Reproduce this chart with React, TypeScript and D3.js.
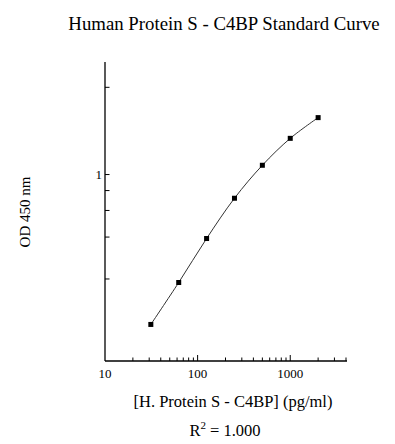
import React, { useEffect, useRef } from 'react';
import * as d3 from 'd3';

// standard curve readings
const concentrations = [31.25, 62.5, 125, 250, 500, 1000, 2000];
const odValues = [0.086, 0.188, 0.391, 0.717, 1.134, 1.613, 2.09];

const xMajorTicks = [100, 1000];
const xMinorTicks = [20, 30, 40, 50, 60, 70, 80, 90, 200, 300, 400, 500, 600, 700, 800, 900, 2000, 3000, 4000];
const xTickLabels = [10, 100, 1000];
const yTicks = [3, 1, 0.8, 0.6, 0.4, 0.2];
const yTickLabels = [1];

const title = 'Human Protein S - C4BP Standard Curve';
const xTitle = '[H. Protein S - C4BP] (pg/ml)';
const yTitle = 'OD 450 nm';

export default function App() {
  const svgRef = useRef<SVGSVGElement>(null);

  useEffect(() => {
    if (!svgRef.current) return;
    const svg = d3.select(svgRef.current);
    svg.selectAll('*').remove();

    const width = 395;
    const height = 444;
    const margin = { top: 62, right: 48, bottom: 83, left: 105 };
    const font = '"Liberation Serif", "Times New Roman", serif';

    svg.attr('width', width).attr('height', height);
    svg.append('rect').attr('width', width).attr('height', height).attr('fill', '#fff');

    const x = d3.scaleLog().domain([10, 4100]).range([margin.left, width - margin.right]);
    const y = d3.scalePow().exponent(0.15).domain([0.04, 4]).range([height - margin.bottom, margin.top]);

    const x0 = margin.left;
    const y0 = height - margin.bottom;

    // axes lines
    svg.append('line')
      .attr('x1', x0).attr('x2', x0)
      .attr('y1', margin.top).attr('y2', y0)
      .attr('stroke', '#000').attr('stroke-width', 1.3);
    svg.append('line')
      .attr('x1', x0).attr('x2', width - margin.right)
      .attr('y1', y0).attr('y2', y0)
      .attr('stroke', '#000').attr('stroke-width', 1.3);

    // x ticks (inward)
    svg.selectAll('.xmajor')
      .data(xMajorTicks)
      .enter()
      .append('line')
      .attr('x1', d => x(d)).attr('x2', d => x(d))
      .attr('y1', y0).attr('y2', y0 - 6)
      .attr('stroke', '#000').attr('stroke-width', 1);
    svg.selectAll('.xminor')
      .data(xMinorTicks)
      .enter()
      .append('line')
      .attr('x1', d => x(d)).attr('x2', d => x(d))
      .attr('y1', y0).attr('y2', y0 - 3.5)
      .attr('stroke', '#000').attr('stroke-width', 1);

    svg.selectAll('.xlabel')
      .data(xTickLabels)
      .enter()
      .append('text')
      .attr('x', d => x(d))
      .attr('y', 378)
      .attr('text-anchor', 'middle')
      .attr('font-family', font)
      .attr('font-size', '13px')
      .attr('fill', '#000')
      .text(d => d);

    // y ticks (inward)
    svg.selectAll('.ytick')
      .data(yTicks)
      .enter()
      .append('line')
      .attr('x1', x0).attr('x2', x0 + 4.5)
      .attr('y1', d => y(d)).attr('y2', d => y(d))
      .attr('stroke', '#000').attr('stroke-width', 1);

    svg.selectAll('.ylabel')
      .data(yTickLabels)
      .enter()
      .append('text')
      .attr('x', x0 - 3)
      .attr('y', d => y(d))
      .attr('dy', '0.35em')
      .attr('text-anchor', 'end')
      .attr('font-family', font)
      .attr('font-size', '13px')
      .attr('fill', '#000')
      .text(d => d);

    // fitted curve
    const pts: [number, number][] = concentrations.map((c, i) => [x(c), y(odValues[i])]);
    const line = d3.line().curve(d3.curveCatmullRom.alpha(0.5));
    svg.append('path')
      .attr('d', line(pts))
      .attr('fill', 'none')
      .attr('stroke', '#333')
      .attr('stroke-width', 1);

    // markers
    svg.selectAll('.pt')
      .data(pts)
      .enter()
      .append('rect')
      .attr('x', d => d[0] - 2.5)
      .attr('y', d => d[1] - 2.5)
      .attr('width', 5)
      .attr('height', 5)
      .attr('fill', '#000');

    // titles
    svg.append('text')
      .attr('x', 224)
      .attr('y', 30)
      .attr('text-anchor', 'middle')
      .attr('font-family', font)
      .attr('font-size', '18.8px')
      .attr('fill', '#000')
      .text(title);

    svg.append('text')
      .attr('x', 233)
      .attr('y', 407)
      .attr('text-anchor', 'middle')
      .attr('font-family', font)
      .attr('font-size', '16.5px')
      .attr('fill', '#000')
      .text(xTitle);

    const r2 = svg.append('text')
      .attr('x', 225)
      .attr('y', 436)
      .attr('text-anchor', 'middle')
      .attr('font-family', font)
      .attr('font-size', '16.5px')
      .attr('fill', '#000');
    r2.append('tspan').text('R');
    r2.append('tspan').attr('dy', -7).attr('font-size', '11px').text('2');
    r2.append('tspan').attr('dy', 7).text(' = 1.000');

    svg.append('text')
      .attr('transform', `translate(25,${212}) rotate(-90)`)
      .attr('text-anchor', 'middle')
      .attr('dy', '0.35em')
      .attr('font-family', font)
      .attr('font-size', '15px')
      .attr('fill', '#000')
      .text(yTitle);
  }, []);

  return (
    <div style={{ position: 'absolute', left: 0, top: 0 }}>
      <svg ref={svgRef} style={{ display: 'block' }} />
    </div>
  );
}
